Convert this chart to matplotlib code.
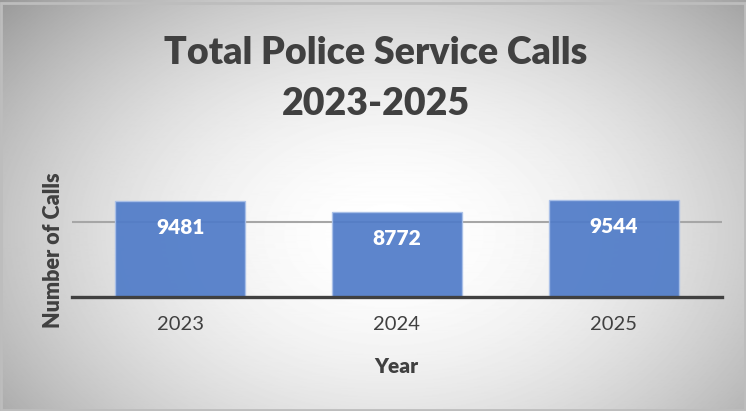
import numpy as np
import matplotlib.pyplot as plt

years = ["2023", "2024", "2025"]
calls = [9481, 8772, 9544]

W, H = 746, 411
plt.rcParams["font.family"] = ["Lato", "DejaVu Sans"]
text_color = "#404040"

fig = plt.figure(figsize=(W / 100, H / 100), dpi=100)

# radial grey background like the office chart style
bg = fig.add_axes([0, 0, 1, 1])
bg.axis("off")
yy, xx = np.mgrid[0:H, 0:W]
r = np.sqrt(((xx - 390) / 420.0) ** 2 + ((yy - 235) / 290.0) ** 2)
grad = 1 - 0.27 * np.clip(r, 0, 1.4) ** 1.9
bg.imshow(grad, cmap="gray", vmin=0, vmax=1, extent=[0, 1, 0, 1], aspect="auto")
bg.set_xlim(0, 1)
bg.set_ylim(0, 1)
bg.add_patch(plt.Rectangle((0.002, 0.003), 0.996, 0.99, fill=False,
                           edgecolor="#bdbdbd", lw=2))

ax = fig.add_axes([72 / W, 1 - 296.7 / H, 650 / W, (296.7 - 180) / H])
ax.patch.set_alpha(0)
ax.set_xlim(-0.5, 2.5)
ax.set_ylim(3289, 10816)

ax.set_yticks([8088])
ax.set_yticklabels([])
ax.yaxis.grid(True, color="#a6a6a6", lw=1.5, zorder=0)
ax.set_axisbelow(True)
ax.tick_params(axis="y", length=0)

ax.bar(range(len(years)), calls, width=0.6, color="#4f7bc8", alpha=0.92,
       edgecolor="#a9c0e8", lw=1, zorder=2)

for i, v in enumerate(calls):
    ax.annotate(str(v), (i, v), xytext=(0, -19), textcoords="offset points",
                ha="center", va="center", color="white", fontweight="heavy",
                fontsize=15)

for s in ["top", "right", "left"]:
    ax.spines[s].set_visible(False)
ax.spines["bottom"].set_color(text_color)
ax.spines["bottom"].set_linewidth(2.4)
ax.spines["bottom"].set_zorder(3)

ax.set_xticks(range(len(years)), years)
ax.tick_params(axis="x", length=0, pad=14, labelsize=14.5, labelcolor=text_color)

fig.text(376 / W, 1 - 53 / H, "Total Police Service Calls", ha="center",
         va="center", fontsize=27, fontweight="heavy", color=text_color)
fig.text(376 / W, 1 - 104 / H, "2023-2025", ha="center", va="center",
         fontsize=27, fontweight="heavy", color=text_color)
fig.text(396 / W, 1 - 366 / H, "Year", ha="center", va="center",
         fontsize=15, fontweight="heavy", color=text_color)
fig.text(54 / W, 1 - 250 / H, "Number of Calls", ha="center", va="center",
         rotation=90, fontsize=15.5, fontweight="heavy", color=text_color)

fig.savefig("out.png", dpi=100)
